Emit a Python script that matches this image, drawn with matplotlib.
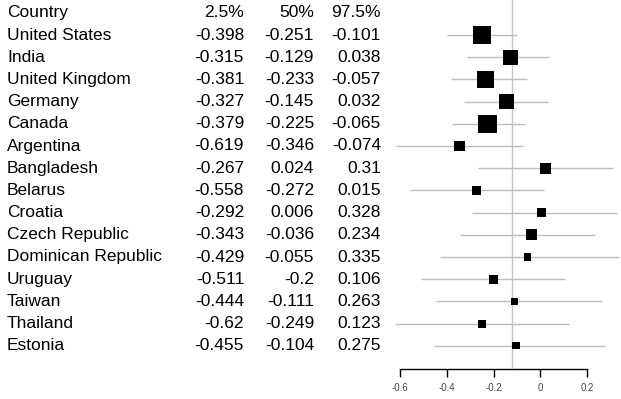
import matplotlib
matplotlib.use("Agg")
import matplotlib.pyplot as plt
import numpy as np
from matplotlib.transforms import blended_transform_factory

plt.rcParams["font.family"] = ["Liberation Sans", "DejaVu Sans"]

countries = ["United States", "India", "United Kingdom", "Germany", "Canada",
             "Argentina", "Bangladesh", "Belarus", "Croatia", "Czech Republic",
             "Dominican Republic", "Uruguay", "Taiwan", "Thailand", "Estonia"]
lower = [-0.398, -0.315, -0.381, -0.327, -0.379, -0.619, -0.267, -0.558,
         -0.292, -0.343, -0.429, -0.511, -0.444, -0.62, -0.455]
median = [-0.251, -0.129, -0.233, -0.145, -0.225, -0.346, 0.024, -0.272,
          0.006, -0.036, -0.055, -0.2, -0.111, -0.249, -0.104]
upper = [-0.101, 0.038, -0.057, 0.032, -0.065, -0.074, 0.31, 0.015,
         0.328, 0.234, 0.335, 0.106, 0.263, 0.123, 0.275]
# relative study weights (%), drive the box sizes
weight = [14.5, 10.1, 13.0, 11.0, 15.0, 5.1, 5.4, 3.6, 3.6, 5.1,
          2.2, 3.6, 2.4, 2.9, 2.4]
pooled = -0.12
xticks = [-0.6, -0.4, -0.2, 0, 0.2]
xticklabels = ["-0.6", "-0.4", "-0.2", "0", "0.2"]

W, H, DPI = 621, 399, 100
fig = plt.figure(figsize=(W / DPI, H / DPI), dpi=DPI)
ax = fig.add_axes([0, 0, 1, 1])

# pixel geometry of the forest panel
px_per_unit = 233.75
x_left = -0.6 - 400 / px_per_unit
x_right = 0.2 + (W - 587) / px_per_unit
row0_px, row_px = 35, 22.2
ax.set_xlim(x_left, x_right)
ax.set_ylim((H - row0_px) / row_px, -row0_px / row_px)

rows = np.arange(len(countries))

# reference line at the pooled estimate
ax.plot([pooled, pooled], [-row0_px / row_px, (367 - row0_px) / row_px],
        color="#c4c4c4", lw=1.0, zorder=1)

# confidence intervals
ax.hlines(rows, lower, upper, color="#bdbdbd", lw=1.0, zorder=2)

# boxes sized by weight
side_pt = 4.73 * np.sqrt(weight) * 72 / DPI
ax.scatter(median, rows, marker="s", s=side_pt ** 2, color="black",
           linewidths=0, zorder=3)

# table text on the left
tr = blended_transform_factory(fig.transFigure, ax.transData)
fs = 12.5
cols = [244, 314, 381]
ax.text(7 / W, -1, "Country", transform=tr, ha="left", va="center", fontsize=fs)
for col_x, head in zip(cols, ["2.5%", "50%", "97.5%"]):
    ax.text(col_x / W, -1, head, transform=tr, ha="right", va="center", fontsize=fs)
for i, name in enumerate(countries):
    ax.text(7 / W, i, name, transform=tr, ha="left", va="center", fontsize=fs)
    for col_x, val in zip(cols, [lower[i], median[i], upper[i]]):
        ax.text(col_x / W, i, f"{val:g}", transform=tr, ha="right",
                va="center", fontsize=fs)

# x axis under the forest panel
for s in ["top", "left", "right"]:
    ax.spines[s].set_visible(False)
ax.spines["bottom"].set_position(("data", (368.5 - row0_px) / row_px))
ax.spines["bottom"].set_bounds(-0.6, 0.2)
ax.spines["bottom"].set_linewidth(1.0)
ax.set_xticks(xticks)
ax.set_xticklabels(xticklabels, fontsize=7, color="#444444")
ax.tick_params(axis="x", direction="out", length=5.5, width=1.0, pad=5)
ax.set_yticks([])
ax.patch.set_alpha(0)

fig.savefig("out.png", dpi=DPI)
